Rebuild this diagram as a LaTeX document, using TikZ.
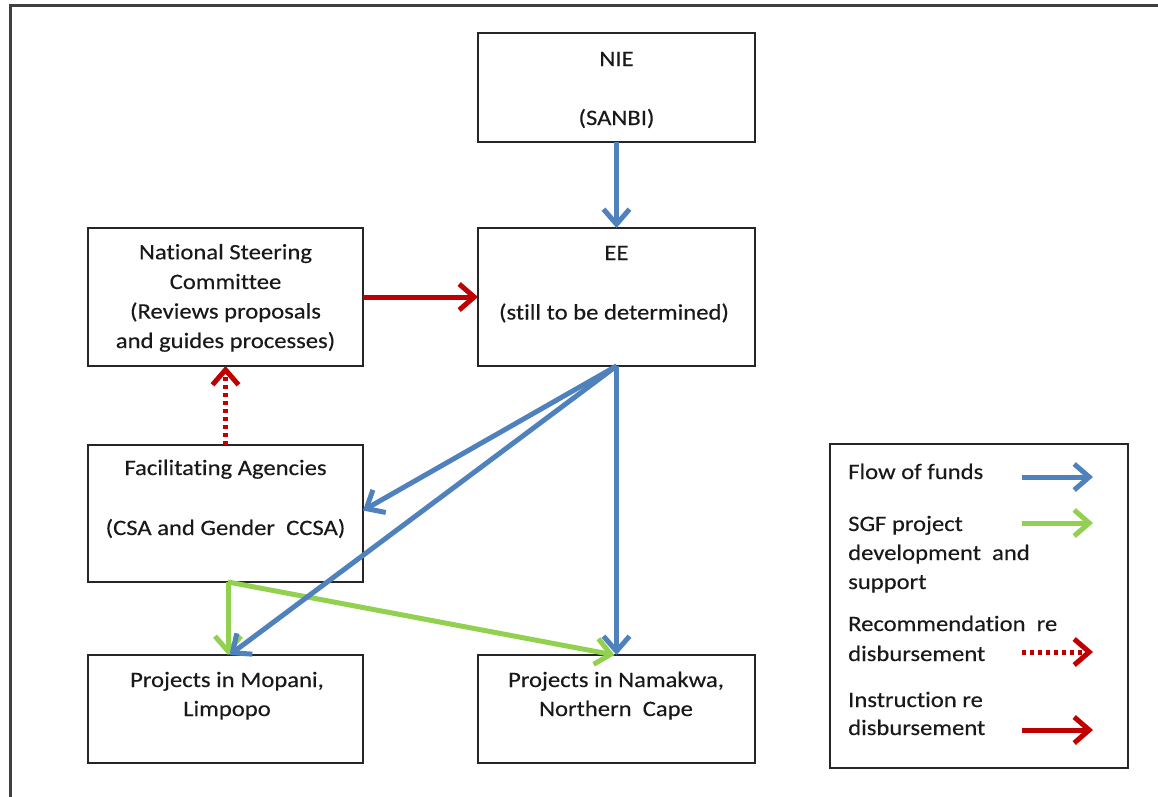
\documentclass[tikz,border=0pt]{standalone}
\usepackage{fontspec}
\setmainfont{Carlito}[FakeStretch=1.12, FakeBold=0.3, RawFeature={-liga;-clig;-calt;-dlig}]
\usetikzlibrary{arrows.meta}
\definecolor{fundblue}{HTML}{4F81BD}
\definecolor{sgfgreen}{HTML}{92D050}
\definecolor{instrred}{HTML}{C00000}
\begin{document}
\begin{tikzpicture}[x=1pt,y=-1pt,
  boxnode/.style={draw=black!85, line width=1.4pt, inner sep=0pt, outer sep=0pt},
  ctxt/.style={inner sep=0pt, anchor=base, font=\fontsize{22}{29.7}\selectfont, text=black!90},
  ltxt/.style={inner sep=0pt, anchor=base west, font=\fontsize{22}{29.7}\selectfont, text=black!90},
  arrowbase/.style={line width=5pt, -{Straight Barb[length=15pt,width=26pt]}},
  fundarrow/.style={arrowbase, draw=fundblue},
  sgfarrow/.style={arrowbase, draw=sgfgreen},
  instrarrow/.style={arrowbase, draw=instrred},
  recarrow/.style={arrowbase, draw=instrred, dash pattern=on 4pt off 4pt}]
\useasboundingbox (0,0) rectangle (1158,796);
\begin{scope}
  \clip (0,0) rectangle (1158,796);
  \draw[line width=2.2pt, draw=black!75] (10.5,5.5) rectangle (1180,820);
\end{scope}

% boxes
\node[boxnode, minimum width=277pt, minimum height=109pt] (nie) at (616.5,87.5) {};
\node[boxnode, minimum width=277pt, minimum height=138pt] (ee)  at (616.5,297) {};
\node[boxnode, minimum width=275pt, minimum height=138pt] (nsc) at (225.5,297) {};
\node[boxnode, minimum width=275pt, minimum height=137pt] (fa)  at (225.5,513.5) {};
\node[boxnode, minimum width=275pt, minimum height=108pt] (mop) at (225.5,709) {};
\node[boxnode, minimum width=277pt, minimum height=108pt] (nam) at (616.5,709) {};
\node[boxnode, minimum width=298pt, minimum height=324pt] (leg) at (979,606) {};

% box texts
\node[ctxt] (nie1) at (616.5,66) {NIE};
\node[ctxt] (nie2) at (616.5,125) {(SANBI)};
\node[ctxt] (nsc1) at (225.5,259.3) {National Steering};
\node[ctxt] (nsc2) at (225.5,289) {Committee};
\node[ctxt] (nsc3) at (225.5,318.5) {(Reviews proposals};
\node[ctxt] (nsc4) at (225.5,348) {and guides processes)};
\node[ctxt] (ee1) at (616.5,260) {EE};
\node[ctxt] (ee2) at (614,319.5) {(still to be determined)};
\node[ctxt] (fa1) at (225.5,475) {Facilitating Agencies};
\node[ctxt] (fa2) at (225.5,535) {(CSA and Gender\ \ CCSA)};
\node[ctxt] (mop1) at (227,687) {Projects in Mopani,};
\node[ctxt] (mop2) at (227,716) {Limpopo};
\node[ctxt] (nam1) at (616,687) {Projects in Namakwa,};
\node[ctxt] (nam2) at (616,716) {Northern\ \ Cape};

% legend texts
\node[ltxt] (l1) at (848,479) {Flow of funds};
\node[ltxt] (l2) at (848,531) {SGF project};
\node[ltxt] (l3) at (848,560) {development\ \ and};
\node[ltxt] (l4) at (848,589) {support};
\node[ltxt] (l5) at (848,631) {Recommendation\ \ re};
\node[ltxt] (l6) at (848,661) {disbursement};
\node[ltxt] (l7) at (848,707) {Instruction re};
\node[ltxt] (l8) at (848,735) {disbursement};

% legend arrow ends
\coordinate (lbA) at (1022,477); \coordinate (lbB) at (1093,477);
\coordinate (lgA) at (1022,523); \coordinate (lgB) at (1093,523);
\coordinate (ldA) at (1022,652); \coordinate (ldB) at (1093,652);
\coordinate (lrA) at (1022,730); \coordinate (lrB) at (1093,730);
\draw[fundarrow] (lbA) -- (lbB);
\draw[sgfarrow] (lgA) -- (lgB);
\draw[recarrow] (ldA) -- (ldB);
\draw[instrarrow] (lrA) -- (lrB);

% green connectors
\draw[sgfarrow] ([xshift=2.5pt]fa.south) -- ([xshift=2.5pt]mop.north);
\draw[sgfarrow] ([xshift=2.5pt]fa.south) -- ([xshift=-2pt]nam.north);

% blue connectors
\draw[fundarrow] (nie.south) -- (ee.north);
\draw[fundarrow] (ee.south) -- ([yshift=3pt]fa.east);
\draw[fundarrow] (ee.south) -- ([xshift=4pt]mop.north);
\draw[fundarrow] (ee.south) -- (nam.north);

% red connectors
\draw[instrarrow] (nsc.east) -- (ee.west);
\draw[recarrow] (fa.north) -- (nsc.south);
\end{tikzpicture}
\end{document}
